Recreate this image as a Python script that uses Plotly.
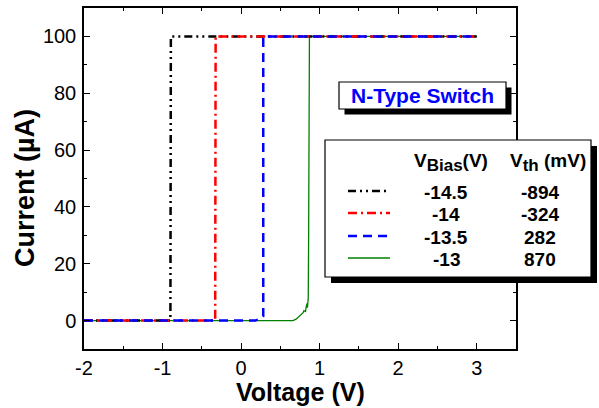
import plotly.graph_objects as go

# ---- data ----
black_v = [-2.0, -0.90, -0.894, 3.0]
black_i = [0.0, 0.0, 100.0, 100.0]

red_v = [-2.0, -0.33, -0.324, 3.0]
red_i = [0.0, 0.0, 100.0, 100.0]

blue_v = [-2.0, 0.18, 0.24, 0.27, 0.282, 0.282, 3.0]
blue_i = [0.0, 0.0, 0.6, 1.0, 1.5, 100.0, 100.0]

green_v = [-2.0, 0.66, 0.70, 0.74, 0.77, 0.79, 0.80, 0.82, 0.83, 0.84, 0.845,
           0.85, 0.855, 0.86, 0.865, 0.87, 3.0]
green_i = [0.0, 0.0, 0.5, 1.5, 2.5, 2.8, 3.5, 3.2, 5.0, 6.0, 4.5,
           7.0, 8.0, 30.0, 70.0, 100.0, 100.0]

vbias_labels = ["-14.5", "-14", "-13.5", "-13"]
vth_labels = ["-894", "-324", "282", "870"]
series_colors = ["black", "red", "blue", "green"]

x_ticks = [-2, -1, 0, 1, 2, 3]
y_ticks = [0, 20, 40, 60, 80, 100]

FONT = "Liberation Sans, Arial, Helvetica, sans-serif"

# ---- layout geometry ----
W, H = 599, 408
L, R, T, B = 84, 516, 8, 349
PW, PH = R - L, B - T


def px(x):
    return (x - L) / PW


def py(y):
    return (B - y) / PH


dashes = {
    "black": "8px,4px,2px,4px,2px,4px",
    "red": "9px,4px,2px,4px",
    "blue": "9px,6px",
    "green": "solid",
}
widths = {"black": 2.5, "red": 2.5, "blue": 2.5, "green": 1.3}

fig = go.Figure()
for name, xs, ys in [("green", green_v, green_i), ("black", black_v, black_i),
                     ("red", red_v, red_i), ("blue", blue_v, blue_i)]:
    fig.add_trace(go.Scatter(x=xs, y=ys, mode="lines", showlegend=False,
                             hoverinfo="skip",
                             line=dict(color=name, width=widths[name],
                                       dash=dashes[name])))

axis_common = dict(
    showline=True, linecolor="black", linewidth=1.5, mirror="allticks",
    ticks="inside", ticklen=6, tickwidth=1.3, tickcolor="black",
    showgrid=False, zeroline=False,
    tickfont=dict(family=FONT, size=20, color="black"),
)

fig.update_xaxes(
    range=[-2, 3.5], tickvals=x_ticks,
    ticktext=[str(v) for v in x_ticks],
    minor=dict(dtick=0.5, tick0=0, ticks="inside", ticklen=3, tickwidth=1.2,
               tickcolor="black"),
    ticklabelstandoff=0,
    **axis_common,
)
fig.update_yaxes(
    range=[-10, 110], tickvals=y_ticks,
    ticktext=[str(v) for v in y_ticks],
    minor=dict(dtick=10, tick0=0, ticks="inside", ticklen=3, tickwidth=1.2,
               tickcolor="black"),
    ticklabelstandoff=2,
    **axis_common,
)

shapes = []
annotations = []

# axis titles
annotations.append(dict(xref="paper", yref="paper", x=px(25), y=py(188),
                        showarrow=False, textangle=-90,
                        text="<b>Current (µA)</b>",
                        font=dict(family=FONT, size=27, color="black"),
                        xanchor="center", yanchor="middle"))
annotations.append(dict(xref="paper", yref="paper", x=px(300), y=py(392),
                        showarrow=False,
                        text="<b>Voltage (V)</b>",
                        font=dict(family=FONT, size=25, color="black"),
                        xanchor="center", yanchor="middle"))

# N-Type Switch box with shadow
nb = (339, 82, 506, 109)
so = 5.5
shapes.append(dict(type="rect", xref="paper", yref="paper", layer="above",
                   x0=px(nb[0] + so), x1=px(nb[2] + so),
                   y0=py(nb[1] + so), y1=py(nb[3] + so),
                   fillcolor="black", line=dict(width=0)))
shapes.append(dict(type="rect", xref="paper", yref="paper", layer="above",
                   x0=px(nb[0]), x1=px(nb[2]), y0=py(nb[1]), y1=py(nb[3]),
                   fillcolor="white", line=dict(color="black", width=1.2)))
annotations.append(dict(xref="paper", yref="paper", x=px((nb[0] + nb[2]) / 2),
                        y=py((nb[1] + nb[3]) / 2), showarrow=False,
                        text="<b>N-Type Switch</b>",
                        font=dict(family=FONT, size=21, color="blue"),
                        xanchor="center", yanchor="middle"))

# legend box with shadow
lb = (325, 140, 591, 277)
so = 6
shapes.append(dict(type="rect", xref="paper", yref="paper", layer="above",
                   x0=px(lb[0] + so), x1=px(lb[2] + so),
                   y0=py(lb[1] + so), y1=py(lb[3] + so),
                   fillcolor="black", line=dict(width=0)))
shapes.append(dict(type="rect", xref="paper", yref="paper", layer="above",
                   x0=px(lb[0]), x1=px(lb[2]), y0=py(lb[1]), y1=py(lb[3]),
                   fillcolor="white", line=dict(color="black", width=1.2)))

annotations.append(dict(xref="paper", yref="paper", x=px(451), y=py(162),
                        showarrow=False,
                        text="<b>V<sub><span style='font-size:17px'>Bias</span></sub>(V)</b>",
                        font=dict(family=FONT, size=19, color="black"),
                        xanchor="center", yanchor="middle"))
annotations.append(dict(xref="paper", yref="paper", x=px(548), y=py(162),
                        showarrow=False,
                        text="<b>V<sub><span style='font-size:17px'>th</span></sub> (mV)</b>",
                        font=dict(family=FONT, size=19, color="black"),
                        xanchor="center", yanchor="middle"))

row_y = [192, 214, 237, 259]
for c, vb, vt, yy in zip(series_colors, vbias_labels, vth_labels, row_y):
    shapes.append(dict(type="line", xref="paper", yref="paper", layer="above",
                       x0=px(348), x1=px(390), y0=py(yy - 1), y1=py(yy - 1),
                       line=dict(color=c, width=widths[c], dash=dashes[c])))
    annotations.append(dict(xref="paper", yref="paper", x=px(446), y=py(yy),
                            showarrow=False, text="<b>%s</b>" % vb,
                            font=dict(family=FONT, size=19, color="black"),
                            xanchor="center", yanchor="middle"))
    annotations.append(dict(xref="paper", yref="paper", x=px(540), y=py(yy),
                            showarrow=False, text="<b>%s</b>" % vt,
                            font=dict(family=FONT, size=19, color="black"),
                            xanchor="center", yanchor="middle"))

fig.update_layout(
    width=W, height=H,
    margin=dict(l=L, r=W - R, t=T, b=H - B, autoexpand=False),
    plot_bgcolor="white", paper_bgcolor="white",
    shapes=shapes, annotations=annotations,
    font=dict(family=FONT, color="black"),
)

fig.write_html("out.html",
               config={"displayModeBar": False},
               post_script="document.body.style.margin='0';"
                           "document.body.style.overflow='hidden';")
